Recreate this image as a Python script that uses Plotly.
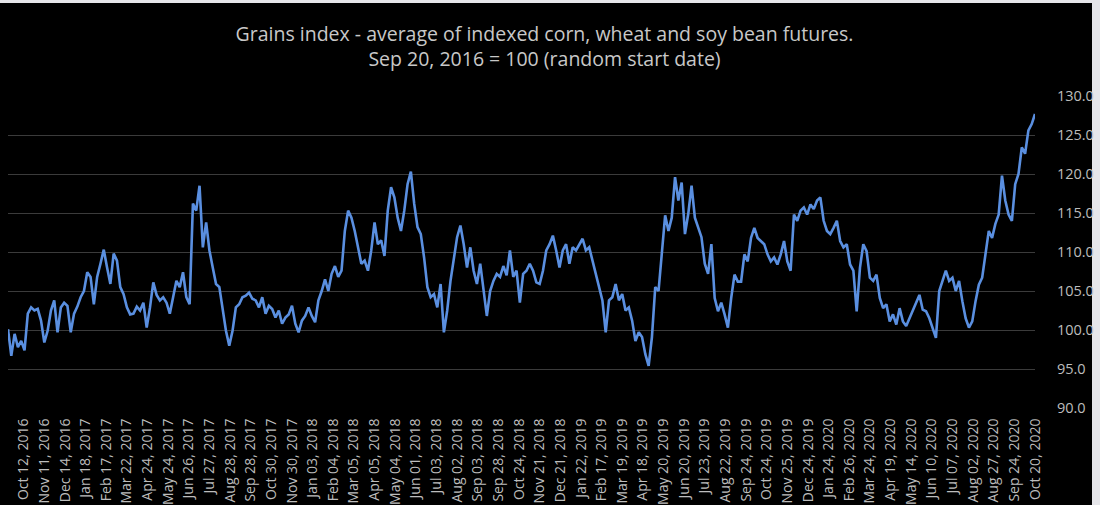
import numpy as np
import plotly.graph_objects as go

# Grains index (Sep 20, 2016 = 100) left to right
grains_index = [
    # Sep 2016 - Mar 2018
    100.1, 96.7, 99.5, 97.8, 98.6, 97.4, 102.1, 102.9, 102.5, 102.7,
    101.2, 98.4, 99.9, 102.5, 103.8, 99.7, 102.9, 103.5, 103.1, 99.7,
    102.1, 103.0, 104.2, 105.0, 107.4, 106.8, 103.3, 106.8, 108.5, 110.3,
    108.0, 105.9, 109.8, 108.9, 105.5, 104.6, 102.9, 102.0, 102.1, 103.0,
    102.5, 103.5, 100.3, 102.9, 106.1, 104.5, 103.8, 104.2, 103.5, 102.1,
    104.2, 106.3, 105.5, 107.4, 104.2, 103.3, 116.2, 115.3, 118.5, 110.6,
    113.8, 110.2, 108.0, 105.9, 105.5, 102.5, 99.9, 98.0, 99.9, 102.9,
    103.3, 104.2, 104.4, 104.8, 104.0, 103.8, 102.9, 104.2, 102.1, 103.1,
    102.7, 101.6, 102.5, 100.8, 101.6, 102.0, 103.1, 100.8, 99.7, 101.2,
    101.8, 102.9, 101.8, 101.0, 103.8, 105.0, 106.5, 105.0, 107.2, 108.2,
    106.8, 107.6, 112.7, 115.3, 114.4, 112.7,
    # Mar 2018 - Jul 2019
    110.6, 108.5, 108.9, 107.6, 110.2, 113.8, 111.0, 111.5, 109.5, 115.3,
    118.3, 117.0, 114.4, 112.7, 115.3, 118.7, 120.3, 116.2, 113.2, 112.3,
    109.3, 105.5, 104.2, 104.6, 102.9, 105.9, 99.7, 102.5, 106.3, 108.9,
    111.9, 113.4, 111.0, 108.0, 110.6, 107.6, 105.9, 108.5, 105.0, 101.8,
    105.0, 106.3, 107.2, 106.8, 108.2, 107.0, 110.2, 106.8, 107.6, 103.5,
    107.2, 107.6, 108.5, 107.6, 106.1, 105.9, 107.6, 110.2, 111.0, 112.1,
    110.2, 108.0, 110.2, 111.0, 108.5, 110.6, 110.2, 111.0, 111.7, 110.2,
    110.6, 108.9, 107.2, 105.5, 103.8, 99.7, 103.8, 104.2, 105.9, 103.8,
    104.6, 102.5, 102.9, 101.2, 98.6, 99.7, 99.1, 96.9, 95.4, 99.1,
    105.5, 105.0, 110.2, 114.7, 112.7, 114.4, 119.6, 116.6, 118.9, 112.3,
    114.9, 118.5, 114.4, 113.2, 111.9, 108.5, 107.2, 111.0,
    # Jul 2019 - Oct 2020
    104.1, 102.4, 103.5, 102.0, 100.3, 104.1, 107.1, 106.2, 106.2, 109.7,
    108.8, 111.8, 113.1, 111.8, 111.4, 111.0, 109.7, 108.8, 109.3, 108.4,
    109.7, 111.4, 108.8, 107.6, 114.8, 114.0, 115.3, 115.7, 114.8, 116.1,
    115.5, 116.6, 117.0, 114.0, 112.7, 112.3, 113.1, 114.0, 111.4, 110.6,
    111.0, 108.4, 107.6, 102.4, 108.0, 111.0, 110.1, 106.7, 106.3, 107.1,
    104.1, 102.8, 103.3, 101.1, 102.0, 100.7, 102.8, 101.1, 100.5, 101.5,
    102.4, 103.3, 104.5, 102.6, 102.4, 101.5, 100.3, 99.0, 105.0, 106.3,
    107.6, 106.3, 106.7, 105.0, 106.3, 103.7, 101.5, 100.3, 101.1, 103.7,
    105.8, 106.7, 109.7, 112.7, 111.8, 113.6, 114.8, 119.8, 116.6, 114.8,
    114.0, 118.7, 120.0, 123.4, 122.6, 125.6, 126.4, 127.7,
]

# category labels shown under the axis (every 21st trading day)
tick_labels = [
    "Oct 12, 2016", "Nov 11, 2016", "Dec 14, 2016", "Jan 18, 2017", "Feb 17, 2017",
    "Mar 22, 2017", "Apr 24, 2017", "May 24, 2017", "Jun 26, 2017", "Jul 27, 2017",
    "Aug 28, 2017", "Sep 28, 2017", "Oct 30, 2017", "Nov 30, 2017", "Jan 03, 2018",
    "Feb 04, 2018", "Mar 05, 2018", "Apr 05, 2018", "May 04, 2018", "Jun 01, 2018",
    "Jul 03, 2018", "Aug 02, 2018", "Sep 03, 2018", "Sep 28, 2018", "Oct 24, 2018",
    "Nov 21, 2018", "Dec 21, 2018", "Jan 22, 2019", "Feb 17, 2019", "Mar 19, 2019",
    "Apr 18, 2019", "May 20, 2019", "Jun 20, 2019", "Jul 23, 2019", "Aug 22, 2019",
    "Sep 24, 2019", "Oct 24, 2019", "Nov 25, 2019", "Dec 24, 2019", "Jan 24, 2020",
    "Feb 26, 2020", "Mar 24, 2020", "Apr 19, 2020", "May 14, 2020", "Jun 10, 2020",
    "Jul 07, 2020", "Aug 02, 2020", "Aug 27, 2020", "Sep 24, 2020", "Oct 20, 2020",
]

FIRST_LABEL = 16   # trading day of first label
LABEL_EVERY = 21   # trading days between labels
last_day = FIRST_LABEL + LABEL_EVERY * (len(tick_labels) - 1)

x = np.linspace(0, last_day, len(grains_index))
tickvals = [FIRST_LABEL + LABEL_EVERY * i for i in range(len(tick_labels))]

fig = go.Figure(go.Scatter(
    x=x, y=grains_index, mode="lines",
    line=dict(color="#5a8fe0", width=2.6),
    hoverinfo="skip",
))

# black chart card on a light page edge (light strip at top and right)
fig.add_shape(type="rect", xref="paper", yref="paper",
              x0=-8 / 1027, x1=(1092 - 8) / 1027, y0=-97 / 312, y1=(408 - 3) / 312,
              fillcolor="black", line=dict(width=0), layer="below")

fig.update_layout(
    width=1100, height=505,
    paper_bgcolor="#e6e6ea", plot_bgcolor="black",
    margin=dict(l=8, r=65, t=96, b=97, autoexpand=False),
    showlegend=False,
    font=dict(family="Open Sans", color="#bdbdbd"),
    title=dict(
        text="Grains index - average of indexed corn, wheat and soy bean futures.<br>"
             "Sep 20, 2016 = 100 (random start date)",
        x=0.495, xref="container", xanchor="center",
        y=1 - 41 / 505, yref="container", yanchor="top",
        font=dict(size=19.5, color="#c8c8c8", family="Open Sans"),
    ),
    xaxis=dict(
        range=[0, last_day], tickvals=tickvals, ticktext=tick_labels,
        tickangle=-90, showgrid=False, zeroline=False, showline=False,
        tickfont=dict(size=14, color="#bdbdbd"), automargin=False,
        ticks="outside", ticklen=4, tickcolor="rgba(0,0,0,0)",
    ),
    yaxis=dict(
        side="right", range=[90, 130], dtick=5, tickformat=".1f",
        gridcolor="#3b3b3b", gridwidth=1.2, zeroline=False, showline=False,
        tickfont=dict(size=14.5, color="#bdbdbd"), automargin=False,
        ticks="outside", ticklen=18, tickcolor="rgba(0,0,0,0)",
    ),
)

# the page body has a default 8px margin; drop it so the figure fills the window
fig.write_html("out.html", config={"displayModeBar": False},
               post_script="document.body.style.margin='0';"
                           "document.body.style.background='black';")
